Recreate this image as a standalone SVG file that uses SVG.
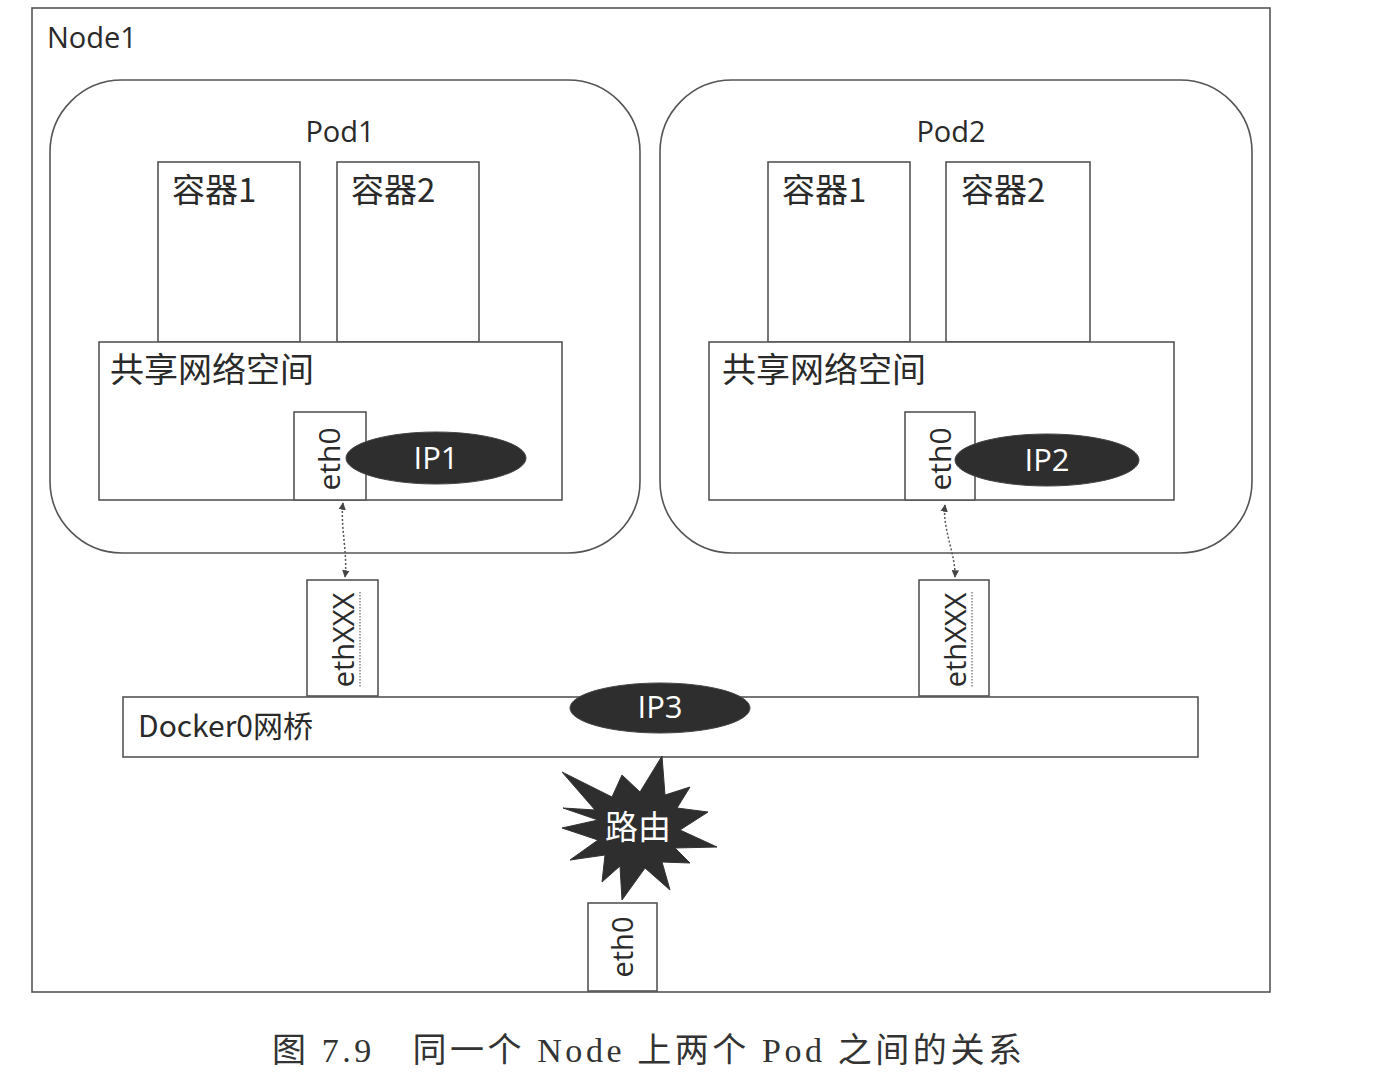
<svg xmlns="http://www.w3.org/2000/svg" width="1375" height="1080" viewBox="0 0 1375 1080">
<style>
.box{fill:#fff;stroke:#555;stroke-width:1.6}
.lbl{font-family:"Open Sans","Noto Sans","Noto Sans CJK SC",sans-serif;fill:#2a2a2a}
.cjk{font-family:"Noto Sans CJK SC","Noto Sans",sans-serif;fill:#2a2a2a}
.ip{fill:#2e2e2e;stroke:#444;stroke-width:1}
.ipt{font-family:"Open Sans","Noto Sans",sans-serif;fill:#fff;font-size:31px;text-anchor:middle}
.conn{fill:none;stroke:#555;stroke-width:1.5;stroke-dasharray:2 2}
</style>
<defs>
<marker id="ah" viewBox="0 0 10 10" refX="9" refY="5" markerWidth="5" markerHeight="5" orient="auto-start-reverse">
<path d="M0,0 L10,5 L0,10 z" fill="#444"/>
</marker>
</defs>
<rect width="1375" height="1080" fill="#fff"/>
<g id="node1">
<rect class="box" x="32" y="8" width="1238" height="984"/>
<text class="lbl" x="47" y="48" font-size="29">Node1</text>
</g>
<g id="pod1">
<rect class="box" x="50" y="80" width="590" height="473" rx="72"/>
<text class="lbl" x="340" y="142" font-size="29" text-anchor="middle">Pod1</text>
</g>
<g id="pod1-c1">
<rect class="box" x="158" y="162" width="142" height="180"/>
<text class="cjk" x="172" y="202" font-size="33">容器1</text>
</g>
<g id="pod1-c2">
<rect class="box" x="337" y="162" width="142" height="180"/>
<text class="cjk" x="351" y="202" font-size="33">容器2</text>
</g>
<g id="pod1-net">
<rect class="box" x="99" y="342" width="463" height="158"/>
<text class="cjk" x="110" y="382" font-size="34">共享网络空间</text>
</g>
<g id="pod1-eth0">
<rect class="box" x="294" y="412" width="72" height="88"/>
<text class="lbl" transform="translate(340,459) rotate(-90)" font-size="30" text-anchor="middle">eth0</text>
</g>
<g id="pod1-ip">
<ellipse class="ip" cx="436" cy="458" rx="90" ry="26"/>
<text class="ipt" x="436" y="469">IP1</text>
</g>
<g id="pod2">
<rect class="box" x="660" y="80" width="592" height="473" rx="72"/>
<text class="lbl" x="951" y="142" font-size="29" text-anchor="middle">Pod2</text>
</g>
<g id="pod2-c1">
<rect class="box" x="768" y="162" width="142" height="180"/>
<text class="cjk" x="782" y="202" font-size="33">容器1</text>
</g>
<g id="pod2-c2">
<rect class="box" x="946" y="162" width="144" height="180"/>
<text class="cjk" x="961" y="202" font-size="33">容器2</text>
</g>
<g id="pod2-net">
<rect class="box" x="709" y="342" width="465" height="158"/>
<text class="cjk" x="722" y="382" font-size="34">共享网络空间</text>
</g>
<g id="pod2-eth0">
<rect class="box" x="905" y="412" width="70" height="88"/>
<text class="lbl" transform="translate(951,459) rotate(-90)" font-size="30" text-anchor="middle">eth0</text>
</g>
<g id="pod2-ip">
<ellipse class="ip" cx="1047" cy="460" rx="92" ry="26"/>
<text class="ipt" x="1047" y="471">IP2</text>
</g>
<g id="ethxxx1">
<rect class="box" x="307" y="580" width="71" height="116"/>
<text class="lbl" transform="translate(354,640) rotate(-90)" font-size="29" text-anchor="middle">ethXXX</text>
<line x1="360" y1="592" x2="360" y2="688" stroke="#666" stroke-width="1.2" stroke-dasharray="1.5 1.5"/>
</g>
<g id="ethxxx2">
<rect class="box" x="919" y="580" width="70" height="116"/>
<text class="lbl" transform="translate(966,640) rotate(-90)" font-size="29" text-anchor="middle">ethXXX</text>
<line x1="972" y1="592" x2="972" y2="688" stroke="#666" stroke-width="1.2" stroke-dasharray="1.5 1.5"/>
</g>
<g id="docker0">
<rect class="box" x="123" y="697" width="1075" height="60"/>
<text class="cjk" x="138" y="737" font-size="30">Docker0网桥</text>
</g>
<g id="ip3">
<ellipse class="ip" cx="660" cy="708" rx="90" ry="25"/>
<text class="ipt" x="660" y="718" font-size="27">IP3</text>
</g>
<g id="router">
<polygon fill="#2e2e2e" stroke="#333" stroke-width="1" points="662,756 665,795 690,787 677,808 708,812 680,830 717,847 675,848 690,863 662,862 670,890 645,868 622,900 620,866 602,882 605,855 570,860 598,840 562,828 598,820 563,808 595,810 562,772 612,797 622,775 640,792"/>
<text x="638" y="839" font-family="'Noto Sans CJK SC',serif" font-size="33" fill="#fff" text-anchor="middle">路由</text>
</g>
<g id="host-eth0">
<rect class="box" x="588" y="903" width="69" height="88"/>
<text class="lbl" transform="translate(633,947) rotate(-90)" font-size="29" text-anchor="middle">eth0</text>
</g>
<g id="connectors">
<path class="conn" d="M343,503 C340,525 348,555 345,577" marker-start="url(#ah)" marker-end="url(#ah)"/>
<path class="conn" d="M945,505 C942,528 956,555 955,577" marker-start="url(#ah)" marker-end="url(#ah)"/>
</g>
<text x="272" y="1062" font-family="'Liberation Serif','Noto Sans CJK SC',serif" font-size="34" fill="#333" textLength="750" lengthAdjust="spacing">图 7.9　同一个 Node 上两个 Pod 之间的关系</text>
</svg>
